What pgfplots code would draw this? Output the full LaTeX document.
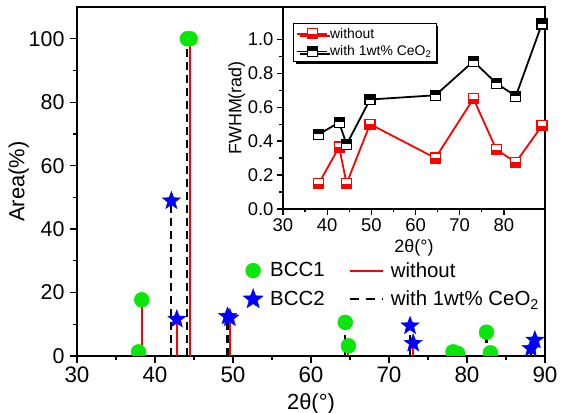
\documentclass[border=0pt]{standalone}
\usepackage{fontspec}
\setmainfont{Liberation Sans}
\usepackage{pgfplots}
\pgfplotsset{compat=1.18}
\usetikzlibrary{shadows}

\definecolor{bccgreen}{RGB}{10,230,10}
\definecolor{bccblue}{RGB}{0,0,255}

% half-filled squares (Origin style)
\pgfdeclareplotmark{hsqred}{%
  \pgfsetfillcolor{white}%
  \pgfpathrectangle{\pgfqpoint{-\pgfplotmarksize}{-\pgfplotmarksize}}{\pgfqpoint{2\pgfplotmarksize}{2\pgfplotmarksize}}%
  \pgfusepathqfill
  \pgfsetfillcolor{red}%
  \pgfpathrectangle{\pgfqpoint{-\pgfplotmarksize}{-\pgfplotmarksize}}{\pgfqpoint{2\pgfplotmarksize}{\pgfplotmarksize}}%
  \pgfusepathqfill
  \pgfpathrectangle{\pgfqpoint{-\pgfplotmarksize}{-\pgfplotmarksize}}{\pgfqpoint{2\pgfplotmarksize}{2\pgfplotmarksize}}%
  \pgfusepathqstroke
}
\pgfdeclareplotmark{hsqblack}{%
  \pgfsetfillcolor{white}%
  \pgfpathrectangle{\pgfqpoint{-\pgfplotmarksize}{-\pgfplotmarksize}}{\pgfqpoint{2\pgfplotmarksize}{2\pgfplotmarksize}}%
  \pgfusepathqfill
  \pgfsetfillcolor{black}%
  \pgfpathrectangle{\pgfqpoint{-\pgfplotmarksize}{0pt}}{\pgfqpoint{2\pgfplotmarksize}{\pgfplotmarksize}}%
  \pgfusepathqfill
  \pgfpathrectangle{\pgfqpoint{-\pgfplotmarksize}{-\pgfplotmarksize}}{\pgfqpoint{2\pgfplotmarksize}{2\pgfplotmarksize}}%
  \pgfusepathqstroke
}
% filled five-pointed star
\pgfdeclareplotmark{fstar}{%
  \pgfpathmoveto{\pgfqpointpolar{90}{\pgfplotmarksize}}%
  \pgfpathlineto{\pgfqpointpolar{126}{0.42\pgfplotmarksize}}%
  \pgfpathlineto{\pgfqpointpolar{162}{\pgfplotmarksize}}%
  \pgfpathlineto{\pgfqpointpolar{198}{0.42\pgfplotmarksize}}%
  \pgfpathlineto{\pgfqpointpolar{234}{\pgfplotmarksize}}%
  \pgfpathlineto{\pgfqpointpolar{270}{0.42\pgfplotmarksize}}%
  \pgfpathlineto{\pgfqpointpolar{306}{\pgfplotmarksize}}%
  \pgfpathlineto{\pgfqpointpolar{342}{0.42\pgfplotmarksize}}%
  \pgfpathlineto{\pgfqpointpolar{18}{\pgfplotmarksize}}%
  \pgfpathlineto{\pgfqpointpolar{54}{0.42\pgfplotmarksize}}%
  \pgfpathclose
  \pgfusepathqfillstroke
}

\pgfplotsset{
  /pgf/number format/assume math mode=true,
  every axis/.append style={
    scale only axis,
    tick align=outside,
    xtick pos=lower, ytick pos=left,
    axis line style={line width=1.2bp},
    every tick/.style={black, line width=1.2bp},
  },
  longline/.style={legend image code/.code={\draw[##1] (0bp,0bp) -- (33bp,0bp);}},
  markslot/.style={legend image code/.code={\draw[mark repeat=2, mark phase=2, ##1]
      plot coordinates {(0bp,0bp) (16.5bp,0bp) (33bp,0bp)};}},
  insetleg/.style={legend image code/.code={\draw[mark repeat=2, mark phase=2, ##1]
      plot coordinates {(0bp,0bp) (15bp,0bp) (30bp,0bp)};}},
}

\begin{document}
\begin{tikzpicture}
\begin{axis}[
    name=main,
    width=468bp, height=349bp,
    xmin=30, xmax=90, ymin=0, ymax=110,
    xtick={30,40,...,90}, ytick={0,20,...,100},
    minor x tick num=1, minor y tick num=1,
    major tick length=7bp, minor tick length=4bp,
    xticklabel style={font=\fontsize{22.5}{25}\selectfont},
    yticklabel style={font=\fontsize{21.5}{25}\selectfont, xshift=-2bp},
    label style={font=\fontsize{22}{25}\selectfont},
    xlabel={2θ(°)}, ylabel={Area(\%)},
    xlabel style={yshift=-4bp},
    ylabel style={yshift=-7bp},
    clip marker paths=true,
    legend columns=2,
    legend cell align=left,
    legend style={at={(0.998,0.28)}, anchor=north east, draw=none, fill=none,
      font=\fontsize{20.5}{23}\selectfont, row sep=8bp,
      /tikz/every odd column/.append style={column sep=5bp},
      /tikz/every even column/.append style={column sep=22bp}},
  ]
% legend: BCC1, without, BCC2, with
\addlegendimage{only marks, mark=*, mark size=7.5bp, color=bccgreen, markslot}
\addlegendentry{BCC1}
\addlegendimage{red, line width=2bp, longline}
\addlegendentry{without}
\addlegendimage{only marks, mark=fstar, mark size=10.5bp, color=bccblue, mark options={fill=bccblue}, markslot}
\addlegendentry{BCC2}
\addlegendimage{black, line width=2.2bp, dash pattern=on 9bp off 7bp, longline}
\addlegendentry{with 1wt\% CeO\textsubscript{2}}

% stems: without
\addplot[ycomb, red, line width=2bp, no marks, forget plot] coordinates {
  (38.3,17.7) (42.8,11.6) (44.5,100) (49.6,12.0) (64.8,3.2)
  (73.1,4.0) (78.8,0.8) (83.0,1.0) (88.7,5.0)
};
% stems: with 1wt% CeO2
\addplot[ycomb, black, line width=2.2bp, dash pattern=on 8bp off 5bp, no marks, forget plot] coordinates {
  (37.9,1.3) (42.1,48.9) (44.15,100) (49.3,12.5) (64.4,10.6)
  (72.7,9.5) (78.2,1.3) (82.5,7.5) (88.2,2.4)
};
% BCC1 peaks
\addplot[only marks, mark=*, mark size=7.5bp, color=bccgreen, forget plot] coordinates {
  (38.3,17.7) (37.9,1.3) (44.15,100) (44.5,100) (64.4,10.6) (64.8,3.2)
  (78.2,1.3) (78.8,0.8) (82.5,7.5) (83.0,1.0)
};
% BCC2 peaks
\addplot[only marks, mark=fstar, mark size=9.5bp, color=bccblue, mark options={fill=bccblue}, forget plot] coordinates {
  (42.1,48.9) (42.8,11.6) (49.3,12.5) (49.6,12.0)
  (72.7,9.5) (73.1,4.0) (88.2,2.4) (88.7,5.0)
};
\end{axis}

\begin{axis}[
    at={(main.north east)}, anchor=north east,
    width=262bp, height=202bp,
    axis background/.style={fill=white},
    xmin=30, xmax=89.3, ymin=0, ymax=1.19,
    xtick={30,40,...,80}, ytick={0,0.2,...,1.0},
    minor x tick num=1, minor y tick num=1,
    major tick length=6bp, minor tick length=3.5bp,
    yticklabel style={/pgf/number format/.cd, fixed, fixed zerofill, precision=1},
    ticklabel style={font=\fontsize{18.5}{21}\selectfont},
    label style={font=\fontsize{18}{21}\selectfont},
    xlabel={2θ(°)}, ylabel={FWHM(rad)},
    xlabel style={yshift=-1bp},
    ylabel style={yshift=-4bp},
    legend cell align=left,
    legend style={at={(0.04,0.92)}, anchor=north west, draw=black, fill=white,
      line width=0.8bp, inner sep=2.5bp, row sep=2bp,
      font=\fontsize{14}{16}\selectfont,
      drop shadow={shadow xshift=2.5bp, shadow yshift=-2.5bp, fill=black, opacity=1}},
  ]
\addplot[red, line width=1.8bp, mark=hsqred, mark size=5bp, mark options={line width=1.2bp}, insetleg] coordinates {
  (38.1,0.15) (42.7,0.365) (44.4,0.15) (49.7,0.50) (64.5,0.30)
  (73.1,0.65) (78.3,0.35) (82.7,0.275) (88.6,0.49)
};
\addlegendentry{without}
\addplot[black, line width=1.8bp, mark=hsqblack, mark size=5bp, mark options={line width=1.2bp}, insetleg] coordinates {
  (38.1,0.44) (42.7,0.51) (44.4,0.38) (49.7,0.645) (64.5,0.67)
  (73.1,0.87) (78.3,0.74) (82.7,0.665) (88.6,1.09)
};
\addlegendentry{with 1wt\% CeO\textsubscript{2}}
\end{axis}

\pgfresetboundingbox
\path (main.south west) ++(-77bp,-57bp) rectangle ++(568bp,413bp);
\end{tikzpicture}
\end{document}
